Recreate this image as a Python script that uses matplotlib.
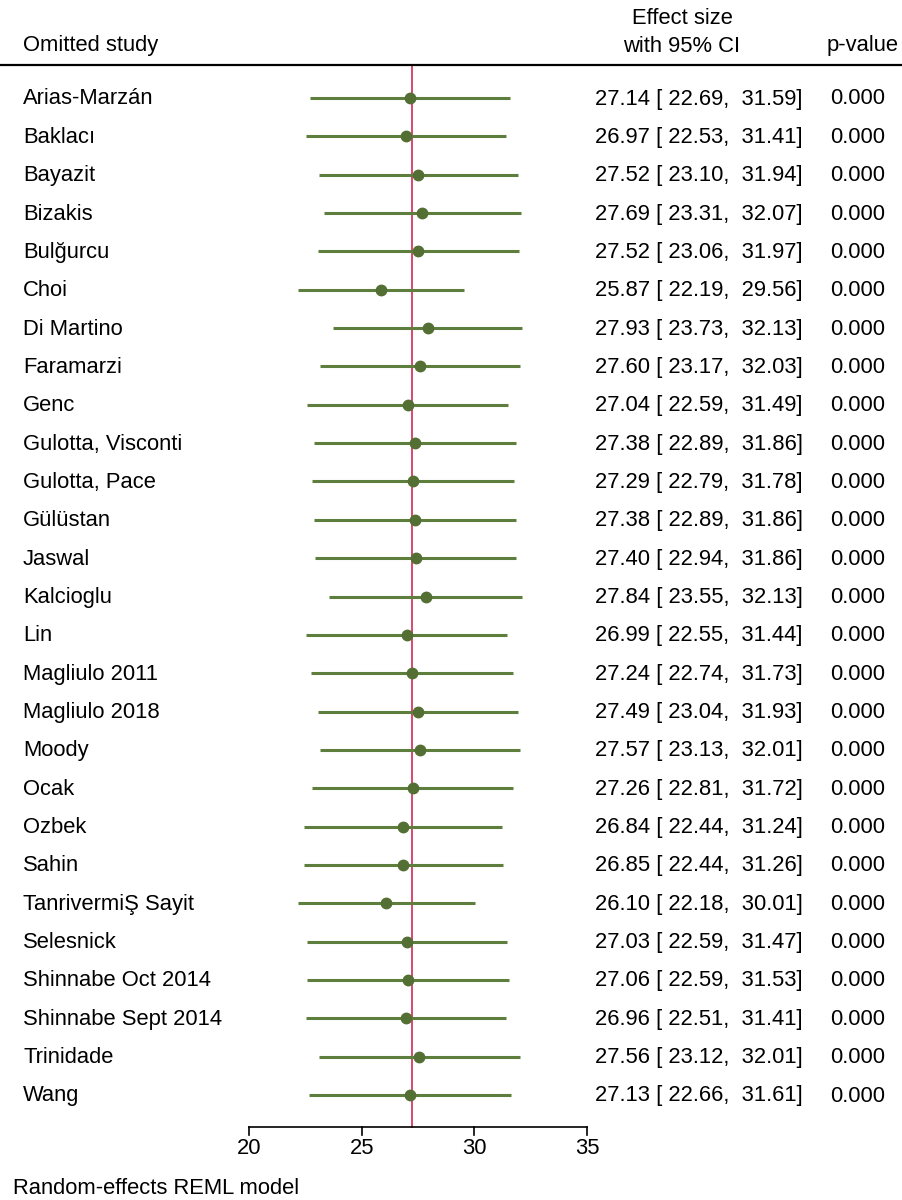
import matplotlib.pyplot as plt
import numpy as np

# leave-one-out meta-analysis (random-effects REML)
estudios = ["Arias-Marzán", "Baklacı", "Bayazit", "Bizakis", "Bulğurcu", "Choi",
            "Di Martino", "Faramarzi", "Genc", "Gulotta, Visconti", "Gulotta, Pace",
            "Gülüstan", "Jaswal", "Kalcioglu", "Lin", "Magliulo 2011", "Magliulo 2018",
            "Moody", "Ocak", "Ozbek", "Sahin", "TanrivermiŞ Sayit", "Selesnick",
            "Shinnabe Oct 2014", "Shinnabe Sept 2014", "Trinidade", "Wang"]
efecto = [27.14, 26.97, 27.52, 27.69, 27.52, 25.87, 27.93, 27.60, 27.04, 27.38,
          27.29, 27.38, 27.40, 27.84, 26.99, 27.24, 27.49, 27.57, 27.26, 26.84,
          26.85, 26.10, 27.03, 27.06, 26.96, 27.56, 27.13]
ci_inf = [22.69, 22.53, 23.10, 23.31, 23.06, 22.19, 23.73, 23.17, 22.59, 22.89,
          22.79, 22.89, 22.94, 23.55, 22.55, 22.74, 23.04, 23.13, 22.81, 22.44,
          22.44, 22.18, 22.59, 22.59, 22.51, 23.12, 22.66]
ci_sup = [31.59, 31.41, 31.94, 32.07, 31.97, 29.56, 32.13, 32.03, 31.49, 31.86,
          31.78, 31.86, 31.86, 32.13, 31.44, 31.73, 31.93, 32.01, 31.72, 31.24,
          31.26, 30.01, 31.47, 31.53, 31.41, 32.01, 31.61]
p_valor = [0.0] * len(estudios)
efecto_global = 27.23
ticks_x = [20, 25, 30, 35]

plt.rcParams['font.family'] = ['Liberation Sans', 'DejaVu Sans']

verde = '#5e7e3e'
verde_osc = '#536f33'
rojo = '#d12a55'

# eje que cubre toda la figura: x en unidades de efecto, y en pixeles
px_por_unidad = (587 - 249) / 15.0
x0 = 20 - 249 / px_por_unidad
x1 = x0 + 903 / px_por_unidad

fig = plt.figure(figsize=(9.03, 12), dpi=100)
ax = fig.add_axes([0, 0, 1, 1])
ax.set_xlim(x0, x1)
ax.set_ylim(1200, 0)
ax.axis('off')

def px(x_pixel):
    return x0 + x_pixel / px_por_unidad

fs = 15.8
y_ini = 98
paso = (1095 - 98) / 26.0
y_filas = y_ini + paso * np.arange(len(estudios))

# cabecera
ax.text(px(23), 46, "Omitted study", fontsize=fs, va='center', ha='left')
ax.text(px(682), 19, "Effect size", fontsize=fs, va='center', ha='center')
ax.text(px(682), 46, "with 95% CI", fontsize=fs, va='center', ha='center')
ax.text(px(863), 46, "p-value", fontsize=fs, va='center', ha='center')
ax.plot([x0, x1], [65, 65], color='black', lw=1.6, solid_capstyle='butt')

# linea del efecto global
y_eje = 1127
ax.plot([efecto_global, efecto_global], [65, y_eje], color=rojo, lw=1.2, zorder=1)

for i, y in enumerate(y_filas):
    ax.plot([ci_inf[i], ci_sup[i]], [y, y], color=verde, lw=2.2, zorder=2,
            solid_capstyle='butt')
    ax.plot(efecto[i], y, 'o', color=verde_osc, ms=7.5, zorder=3)
    ax.text(px(23), y + 1, estudios[i], fontsize=fs, va='center', ha='left')
    ax.text(px(803), y + 1, f"{efecto[i]:5.2f} [{ci_inf[i]:6.2f}, {ci_sup[i]:6.2f}]",
            fontsize=fs, va='center', ha='right')
    ax.text(px(885), y + 1, f"{p_valor[i]:.3f}", fontsize=fs, va='center', ha='right')

# eje x dibujado a mano
ax.plot([ticks_x[0], ticks_x[-1]], [y_eje, y_eje], color='black', lw=1.2)
for t in ticks_x:
    ax.plot([t, t], [y_eje, y_eje + 8], color='black', lw=1.2)
    ax.text(t, 1149, str(t), fontsize=fs, ha='center', va='center')

ax.text(px(13), 1189, "Random-effects REML model", fontsize=fs, va='center', ha='left')

fig.savefig("out.png", dpi=100, facecolor='white')
